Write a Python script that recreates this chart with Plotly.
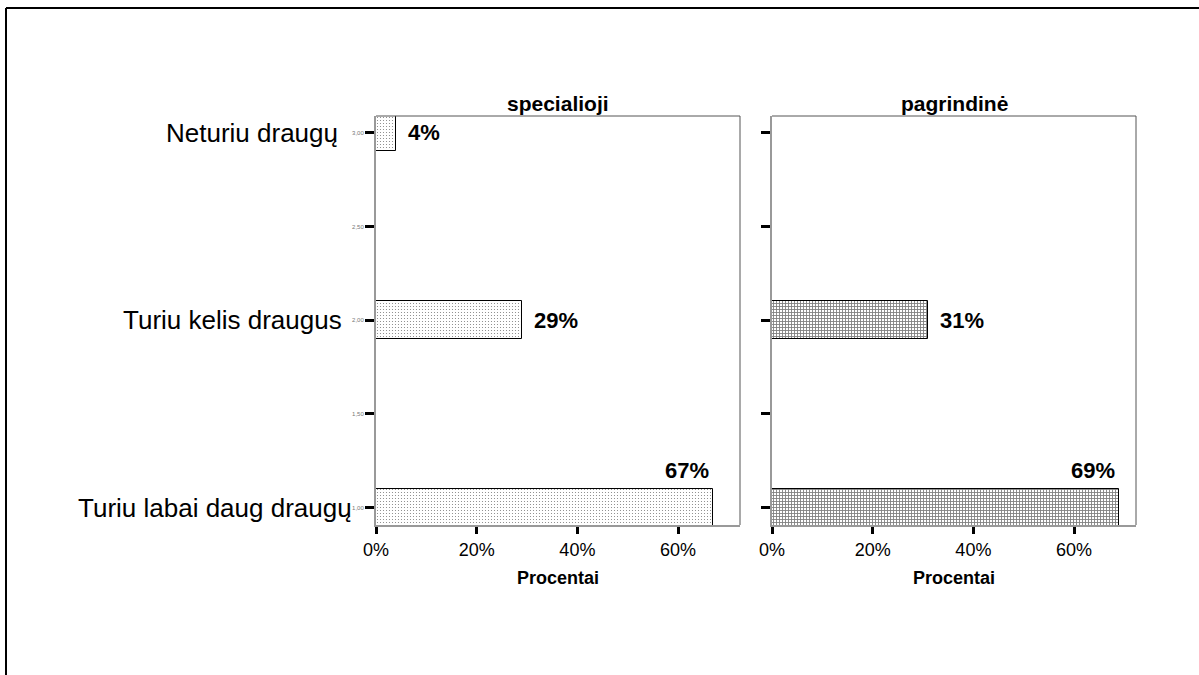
import plotly.graph_objects as go
from plotly.subplots import make_subplots

# Answer categories and their numeric codes on the y axis
categories = ["Turiu labai daug draugų", "Turiu kelis draugus", "Neturiu draugų"]
codes = [1, 2, 3]

# Percent of respondents per school type
panel_titles = ["specialioji", "pagrindinė"]
special_pct = [67, 29, 4]
basic_pct = [69, 31, None]

# Axis ticks
y_ticks = [1.0, 1.5, 2.0, 2.5, 3.0]
y_tick_text = ["1,00", "1,50", "2,00", "2,50", "3,00"]
x_ticks = [0, 20, 40, 60]
x_tick_text = ["0%", "20%", "40%", "60%"]

W, H = 1199, 675
FONT = "Liberation Sans, Arial, sans-serif"

fig = make_subplots(rows=1, cols=2, horizontal_spacing=0.02)

patterns = [
    dict(shape=".", size=3, solidity=0.12, fgcolor="black", bgcolor="white"),
    dict(shape="+", size=3, solidity=0.5, fgcolor="black", bgcolor="white"),
]
series = [special_pct, basic_pct]
for i, vals in enumerate(series):
    xs = [v for v in vals if v is not None]
    ys = [c for v, c in zip(vals, codes) if v is not None]
    fig.add_trace(
        go.Bar(
            x=xs, y=ys, orientation="h", width=0.2,
            marker=dict(color="white", line=dict(color="black", width=1),
                        pattern=patterns[i]),
            showlegend=False, hoverinfo="skip",
        ),
        row=1, col=i + 1,
    )

# panel placement (paper fractions)
x_dom = [(376 / W, 740 / W), (772 / W, 1136 / W)]
y_dom = (1 - 525 / H, 1 - 116 / H)
x_range = [0, 72.3]
y_range = [0.908, 3.089]

for i in range(2):
    xa = "xaxis" if i == 0 else "xaxis2"
    ya = "yaxis" if i == 0 else "yaxis2"
    fig.layout[xa].update(
        domain=list(x_dom[i]), range=x_range, tickvals=x_ticks, ticktext=x_tick_text,
        ticks="outside", ticklen=7, tickwidth=3, tickcolor="black",
        showline=True, linecolor="#999999", linewidth=2,
        showgrid=False, zeroline=False, fixedrange=True, automargin=False,
        tickfont=dict(family=FONT, size=18, color="black"),
    )
    fig.layout[ya].update(
        domain=list(y_dom), range=y_range, tickvals=y_ticks, ticktext=y_tick_text,
        ticks="outside", ticklen=9, tickwidth=3, tickcolor="black",
        showline=True, linecolor="#999999", linewidth=2,
        showgrid=False, zeroline=False, showticklabels=(i == 0),
        fixedrange=True, automargin=False,
        tickfont=dict(family=FONT, size=6, color="#777777"),
    )
    # top and right panel edges
    x0, x1 = x_dom[i]
    fig.add_shape(type="line", xref="paper", yref="paper", x0=x0, x1=x1,
                  y0=y_dom[1], y1=y_dom[1], line=dict(color="#555555", width=1))
    fig.add_shape(type="line", xref="paper", yref="paper", x0=x1, x1=x1,
                  y0=y_dom[0], y1=y_dom[1], line=dict(color="#555555", width=1))
    # panel title
    fig.add_annotation(text=f"<b>{panel_titles[i]}</b>", xref="paper", yref="paper",
                       x=(x0 + x1) / 2, y=1 - 103 / H, showarrow=False,
                       xanchor="center", yanchor="middle",
                       font=dict(family=FONT, size=21, color="black"))
    # x axis title
    fig.add_annotation(text="<b>Procentai</b>", xref="paper", yref="paper",
                       x=(x0 + x1) / 2, y=1 - 578 / H, showarrow=False,
                       xanchor="center", yanchor="middle",
                       font=dict(family=FONT, size=18, color="black"))
    # value labels: above long bars, beside short ones
    xr = "x" if i == 0 else "x2"
    yr = "y" if i == 0 else "y2"
    for v, c in zip(series[i], codes):
        if v is None:
            continue
        if v > 50:
            fig.add_annotation(text=f"<b>{v}%</b>", xref=xr, yref=yr, x=v, y=c + 0.1,
                               showarrow=False, xanchor="right", yanchor="bottom",
                               xshift=-2, yshift=4,
                               font=dict(family=FONT, size=22, color="black"))
        else:
            fig.add_annotation(text=f"<b>{v}%</b>", xref=xr, yref=yr, x=v, y=c,
                               showarrow=False, xanchor="left", yanchor="middle",
                               xshift=10, font=dict(family=FONT, size=22, color="black"))

# category labels on the left (right edge in px for each label)
label_right_px = [354, 344, 340]
for cat, c, px in zip(categories, codes, label_right_px):
    fig.add_annotation(text=cat, xref="paper", yref="y", x=px / W, y=c,
                       showarrow=False, xanchor="right", yanchor="middle",
                       font=dict(family=FONT, size=26, color="black"))

# outer frame: top and left edges
fig.add_shape(type="line", xref="paper", yref="paper", x0=6 / W, x1=1,
              y0=1 - 8 / H, y1=1 - 8 / H, line=dict(color="black", width=2))
fig.add_shape(type="line", xref="paper", yref="paper", x0=6 / W, x1=6 / W,
              y0=0, y1=1 - 8 / H, line=dict(color="black", width=2))

fig.update_layout(
    width=W, height=H,
    margin=dict(l=0, r=0, t=0, b=0, autoexpand=False),
    paper_bgcolor="white", plot_bgcolor="white", bargap=0,
    font=dict(family=FONT), dragmode=False,
)

fig.write_html("out.html")
